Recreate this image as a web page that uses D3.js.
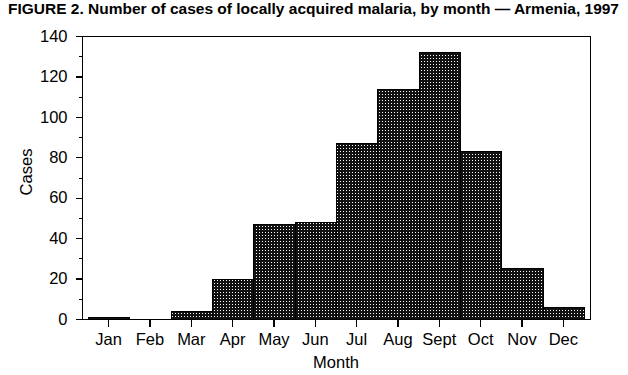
<!DOCTYPE html>
<html>
<head>
<meta charset="utf-8">
<script src="https://cdn.jsdelivr.net/npm/d3@7"></script>
<style>
  html, body { margin: 0; padding: 0; background: #fff; }
  svg { display: block; }
  text { font-family: "Liberation Sans", Arial, Helvetica, sans-serif; fill: #000; }
</style>
</head>
<body>
<svg id="chart" width="628" height="375"></svg>
<script>
const months = ["Jan", "Feb", "Mar", "Apr", "May", "Jun", "Jul", "Aug", "Sept", "Oct", "Nov", "Dec"];
const cases = [1, 0, 4, 20, 47, 48, 87, 114, 132, 83, 25, 6];
const yMajorTicks = [0, 20, 40, 60, 80, 100, 120, 140];
const yMinorTicks = [10, 30, 50, 70, 90, 110, 130];
const titleText = "FIGURE 2. Number of cases of locally acquired malaria, by month \u2014 Armenia, 1997";
const xTitle = "Month";
const yTitle = "Cases";

const svg = d3.select("#chart");

const frame = { left: 82, right: 590, top: 36, bottom: 319 };
const x = d3.scaleBand().domain(months).range([88, 584]).paddingInner(0).paddingOuter(0);
const y = d3.scaleLinear().domain([0, 140]).range([frame.bottom, frame.top]);

// pattern: dark grid with small white dots
const defs = svg.append("defs");
const pat = defs.append("pattern")
  .attr("id", "dots")
  .attr("patternUnits", "userSpaceOnUse")
  .attr("width", 3).attr("height", 3);
pat.append("rect").attr("width", 3).attr("height", 3).attr("fill", "#111");
pat.append("rect").attr("x", 1).attr("y", 1).attr("width", 1).attr("height", 1).attr("fill", "#fff");

// title
svg.append("text")
  .attr("x", 8).attr("y", 14)
  .attr("font-size", 14.5).attr("font-weight", "bold")
  .attr("textLength", 611).attr("lengthAdjust", "spacingAndGlyphs")
  .text(titleText);

// bars
svg.append("g").selectAll("rect")
  .data(months.map((m, i) => ({ m, v: cases[i] })).filter(d => d.v > 0))
  .join("rect")
  .attr("x", d => Math.round(x(d.m)) + 0.5)
  .attr("y", d => Math.round(y(d.v)) + 0.5)
  .attr("width", d => Math.round(x(d.m) + x.bandwidth()) - Math.round(x(d.m)))
  .attr("height", d => Math.round(y(0)) - Math.round(y(d.v)))
  .attr("fill", "url(#dots)")
  .attr("stroke", "#000")
  .attr("stroke-width", 1)
  .attr("shape-rendering", "crispEdges");

// frame
svg.append("rect")
  .attr("x", frame.left + 0.5).attr("y", frame.top + 0.5)
  .attr("width", frame.right - frame.left).attr("height", frame.bottom - frame.top)
  .attr("fill", "none").attr("stroke", "#000").attr("stroke-width", 1.2)
  .attr("shape-rendering", "crispEdges");

// y axis major
const yAxis = svg.append("g")
  .attr("transform", `translate(${frame.left + 0.5},0)`)
  .call(d3.axisLeft(y).tickValues(yMajorTicks).tickSize(7).tickPadding(8).tickFormat(d3.format("d")));
yAxis.select(".domain").remove();
yAxis.selectAll("line").attr("stroke", "#000").attr("stroke-width", 1.2).attr("shape-rendering", "crispEdges");
yAxis.selectAll("text").attr("font-size", 16.5).attr("font-family", "Liberation Sans, Arial, sans-serif");

// y axis minor
const yMinor = svg.append("g")
  .attr("transform", `translate(${frame.left + 0.5},0)`)
  .call(d3.axisLeft(y).tickValues(yMinorTicks).tickSize(4).tickFormat(""));
yMinor.select(".domain").remove();
yMinor.selectAll("line").attr("stroke", "#000").attr("shape-rendering", "crispEdges");

// x axis
const xAxis = svg.append("g")
  .attr("transform", `translate(0,${frame.bottom + 0.5})`)
  .call(d3.axisBottom(x).tickSize(7).tickPadding(7));
xAxis.select(".domain").remove();
xAxis.selectAll("line").attr("stroke", "#000").attr("stroke-width", 1.2).attr("shape-rendering", "crispEdges");
xAxis.selectAll("text").attr("font-size", 16.5).attr("font-family", "Liberation Sans, Arial, sans-serif");

// axis titles
svg.append("text")
  .attr("x", (88 + 584) / 2).attr("y", 368)
  .attr("text-anchor", "middle").attr("font-size", 16.5)
  .text(xTitle);

svg.append("text")
  .attr("transform", "translate(32,172) rotate(-90)")
  .attr("text-anchor", "middle").attr("font-size", 16.5)
  .text(yTitle);
</script>
</body>
</html>
